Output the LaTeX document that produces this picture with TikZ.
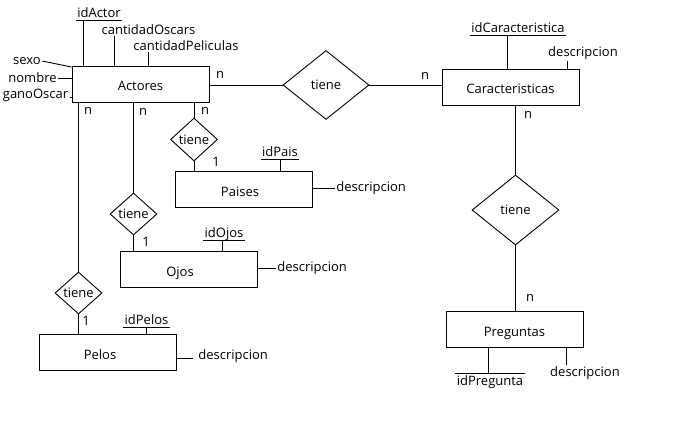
\documentclass[tikz,border=0pt]{standalone}
\usepackage{fontspec}
\setmainfont{Open Sans}
\usetikzlibrary{shapes.geometric}
\tikzset{
  entity/.style={draw, rectangle, minimum width=137pt, minimum height=36pt, inner sep=0pt, text height=14pt, text depth=0pt},
  rel/.style={draw, diamond, inner sep=0pt},
  attr/.style={inner sep=1pt},
  key/.style={inner xsep=1pt, inner ysep=2.5pt, text depth=0pt},
  card/.style={inner sep=0pt}
}
\begin{document}
\begin{tikzpicture}[x=1pt, y=-1pt, line width=0.9pt, font=\fontsize{13}{15}\selectfont]
            \useasboundingbox (0, 0) rectangle (680, 433);
            % Entities
            \node[entity] (Actores) at (140.5, 84) {Actores};
            \node[entity] (Caracteristicas) at (510.5, 87) {Caracteristicas};
            \node[entity] (Preguntas) at (514.5, 329.5) {Preguntas};
            \node[entity] (Paises) at (243.5, 189) {\hspace*{-7pt}Paises};
            \node[entity] (Ojos) at (188.5, 269) {\hspace*{-17pt}Ojos};
            \node[entity] (Pelos) at (108, 352) {\hspace*{-16pt}Pelos};

            % Relations
            \node[rel, minimum width=86pt, minimum height=69pt] (tieneCar) at (326, 85) {tiene};
            \node[rel, minimum width=87pt, minimum height=70pt] (tienePre) at (515.5, 210) {tiene};
            \node[rel, minimum width=47pt, minimum height=43pt] (tienePai) at (194, 139.5) {tiene};
            \node[rel, minimum width=47pt, minimum height=42pt] (tieneOjo) at (133.5, 214) {tiene};
            \node[rel, minimum width=47pt, minimum height=42pt] (tienePel) at (78.5, 293) {tiene};

            % Connectors
            \draw (tieneCar.west -| Actores.east) -- (tieneCar.west);
            \draw (tieneCar.east) -- (tieneCar.east -| Caracteristicas.west);
            \draw (tienePre.north |- Caracteristicas.south) -- (tienePre.north);
            \draw (tienePre.south) -- (tienePre.south |- Preguntas.north);
            \draw (tienePai.north |- Actores.south) -- (tienePai.north);
            \draw (tienePai.south) -- (tienePai.south |- Paises.north);
            \draw (tieneOjo.north |- Actores.south) -- (tieneOjo.north);
            \draw (tieneOjo.south) -- (tieneOjo.south |- Ojos.north);
            \draw (tienePel.north |- Actores.south) -- (tienePel.north);
            \draw (tienePel.south) -- (tienePel.south |- Pelos.north);

            % Cardinalities
            \node[card] (nActCar) at (220, 75) {n};
            \node[card] (nCarAct) at (425, 76) {n};
            \node[card] (nCarPre) at (528, 115) {n};
            \node[card] (nPreCar) at (530, 298) {n};
            \node[card] (nActPai) at (205, 111) {n};
            \node[card] (unoPai) at (216, 162) {1};
            \node[card] (nActOjo) at (143, 112) {n};
            \node[card] (unoOjo) at (146, 242) {1};
            \node[card] (nActPel) at (88, 111) {n};
            \node[card] (unoPel) at (86, 321) {1};

            % Actores attributes
            \node[key, anchor=south] (idActor) at (99, 20.7) {idActor};
            \draw (idActor.south west) -- (idActor.south east);
            \path ([xshift=-16pt]idActor.south) coordinate (idActorF);
            \draw (idActorF) -- (idActorF |- Actores.north);
            \node[attr] (cantidadOscars) at (148.5, 30) {cantidadOscars};
            \path ([xshift=-34.5pt]cantidadOscars.south) coordinate (cantidadOscarsF);
            \draw (cantidadOscarsF) -- (cantidadOscarsF |- Actores.north);
            \node[attr] (cantidadPeliculas) at (186, 46) {cantidadPeliculas};
            \path ([xshift=-38pt]cantidadPeliculas.south) coordinate (cantidadPeliculasF);
            \draw (cantidadPeliculasF) -- (cantidadPeliculasF |- Actores.north);
            \node[attr] (sexo) at (27, 61) {sexo};
            \draw (sexo.east) -- ([yshift=-1.5pt]Actores.north west);
            \node[attr] (nombre) at (32.5, 78) {nombre};
            \draw (nombre.east) -- (nombre.east -| Actores.west);
            \node[attr] (ganoOscar) at (35.5, 95) {ganoOscar};
            \path ([yshift=-2.5pt]ganoOscar.east) coordinate (ganoOscarF);
            \draw (ganoOscarF) -- (ganoOscarF -| Actores.west);

            % Caracteristicas attributes
            \node[key, anchor=south] (idCaracteristica) at (518, 35.5) {idCaracteristica};
            \draw (idCaracteristica.south west) -- (idCaracteristica.south east);
            \path ([xshift=-11pt]idCaracteristica.south) coordinate (idCaracteristicaF);
            \draw (idCaracteristicaF) -- (idCaracteristicaF |- Caracteristicas.north);
            \node[attr] (descCar) at (583, 53) {descripcion};
            \path ([xshift=-16pt]descCar.south) coordinate (descCarF);
            \draw (descCarF) -- (descCarF |- Caracteristicas.north);

            % Paises attributes
            \node[key, anchor=south] (idPais) at (280, 159) {idPais};
            \draw (idPais.south west) -- (idPais.south east);
            \draw (idPais.south) -- (idPais.south |- Paises.north);
            \node[attr, anchor=west] (descPai) at (335, 188) {descripcion};
            \draw (descPai.west) -- (descPai.west -| Paises.east);

            % Ojos attributes
            \node[key, anchor=south] (idOjos) at (224, 240.5) {idOjos};
            \draw (idOjos.south west) -- (idOjos.south east);
            \path ([xshift=-2pt]idOjos.south) coordinate (idOjosF);
            \draw (idOjosF) -- (idOjosF |- Ojos.north);
            \node[attr, anchor=west] (descOjo) at (276, 268) {descripcion};
            \draw (descOjo.west) -- (descOjo.west -| Ojos.east);

            % Pelos attributes
            \node[key, anchor=south] (idPelos) at (146.5, 327.5) {idPelos};
            \draw (idPelos.south west) -- (idPelos.south east);
            \draw (idPelos.south) -- (idPelos.south |- Pelos.north);
            \node[attr, anchor=west] (descPel) at (197, 356) {descripcion};
            \path ([xshift=-4pt, yshift=-2pt]descPel.west) coordinate (descPelF);
            \draw (descPelF) -- (descPelF -| Pelos.east);

            % Preguntas attributes
            \node[key, anchor=north] (idPregunta) at (490, 373) {idPregunta};
            \draw (idPregunta.north west) -- (idPregunta.north east);
            \path ([xshift=-2pt]idPregunta.north) coordinate (idPreguntaF);
            \draw (idPreguntaF |- Preguntas.south) -- (idPreguntaF);
            \node[attr, anchor=north] (descPre) at (585, 365) {descripcion};
            \path ([xshift=-19pt]descPre.north) coordinate (descPreF);
            \draw (descPreF |- Preguntas.south) -- (descPreF);
\end{tikzpicture}
\end{document}
